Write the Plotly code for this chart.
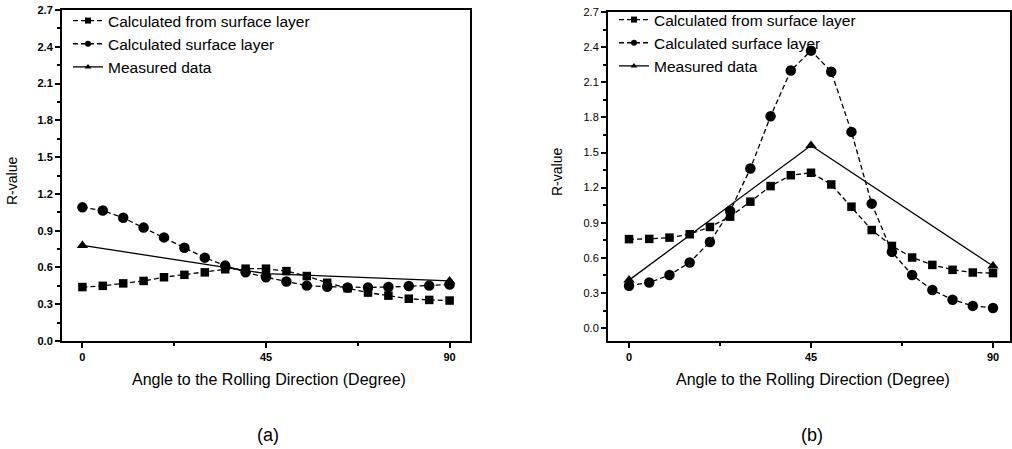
import plotly.graph_objects as go

angles = [0, 5, 10, 15, 20, 25, 30, 35, 40, 45, 50, 55, 60, 65, 70, 75, 80, 85, 90]
measured_angles = [0, 45, 90]

# Panel (a)
a_from_surface = [0.44, 0.45, 0.47, 0.49, 0.52, 0.54, 0.56, 0.585, 0.59, 0.59, 0.57, 0.53,
                  0.475, 0.43, 0.395, 0.37, 0.345, 0.335, 0.33]
a_surface = [1.09, 1.065, 1.005, 0.925, 0.845, 0.76, 0.68, 0.615, 0.56, 0.52, 0.485, 0.452,
             0.443, 0.437, 0.437, 0.44, 0.448, 0.452, 0.46]
a_measured = [0.78, 0.55, 0.49]

# Panel (b)
b_from_surface = [0.76, 0.762, 0.773, 0.802, 0.864, 0.952, 1.08, 1.213, 1.306, 1.327, 1.227,
                  1.037, 0.838, 0.702, 0.603, 0.54, 0.498, 0.475, 0.47]
b_surface = [0.362, 0.39, 0.453, 0.561, 0.736, 1.0, 1.363, 1.809, 2.2, 2.37, 2.19, 1.676,
             1.063, 0.651, 0.453, 0.325, 0.243, 0.19, 0.172]
b_measured = [0.41, 1.56, 0.53]

names = ["Calculated from surface layer", "Calculated surface layer", "Measured data"]
y_ticks = [0.0, 0.3, 0.6, 0.9, 1.2, 1.5, 1.8, 2.1, 2.4, 2.7]
x_ticks = [0, 45, 90]

FONT = "Liberation Sans, Arial, sans-serif"
DASH = "5px,3px"
fig = go.Figure()

styles = [
    dict(symbol="square", size=8.5, dash=DASH),
    dict(symbol="circle", size=10.5, dash=DASH),
    dict(symbol="triangle-up", size=10, dash="solid"),
]

def add_panel(xa, ya, legend, series):
    for (xs, ys), st, nm in zip(series, styles, names):
        fig.add_trace(go.Scatter(x=xs, y=ys, name=nm, mode="lines+markers", showlegend=False,
                                 line=dict(color="black", width=1.3, dash=st["dash"]),
                                 marker=dict(symbol=st["symbol"], size=st["size"], color="black"),
                                 xaxis=xa, yaxis=ya))
    # legend-only entries (smaller symbols, like the original legend)
    for st, nm in zip(styles, names):
        fig.add_trace(go.Scatter(x=[None], y=[None], name=nm, mode="lines+markers",
                                 line=dict(color="black", width=1.3, dash=st["dash"]),
                                 marker=dict(symbol=st["symbol"], size=6, color="black"),
                                 xaxis=xa, yaxis=ya, legend=legend))

add_panel("x", "y", "legend",
          [(angles, a_from_surface), (angles, a_surface), (measured_angles, a_measured)])
add_panel("x2", "y2", "legend2",
          [(angles, b_from_surface), (angles, b_surface), (measured_angles, b_measured)])

axis_common = dict(showgrid=False, zeroline=False, showline=True, linecolor="black",
                   linewidth=2, mirror=True, ticks="outside", tickcolor="black",
                   ticklen=5, tickwidth=1.5, automargin=False)
minor_x = dict(dtick=22.5, tick0=0, ticks="outside", ticklen=3, tickcolor="black")
minor_y = dict(dtick=0.15, tick0=0, ticks="outside", ticklen=3, tickcolor="black")

fig.update_layout(
    width=1012, height=449,
    margin=dict(l=0, r=0, t=0, b=0, autoexpand=False),
    paper_bgcolor="white", plot_bgcolor="white",
    showlegend=True,
    xaxis=dict(domain=[62/1012, 470/1012], range=[-5, 95], anchor="y",
               tickvals=x_ticks, tickfont=dict(family=FONT, size=11, color="black", weight="bold"),
               minor=minor_x, **axis_common),
    yaxis=dict(domain=[1-341/449, 1-10/449], range=[0, 2.7], anchor="x",
               tickvals=y_ticks, ticktext=[f"{v:.1f}" for v in y_ticks],
               tickfont=dict(family=FONT, size=11, color="black", weight="bold"),
               minor=minor_y, **axis_common),
    xaxis2=dict(domain=[608/1012, 1010/1012], range=[-5.2, 94.2], anchor="y2",
                tickvals=x_ticks, tickfont=dict(family=FONT, size=11, color="black", weight="bold"),
                minor=minor_x, **axis_common),
    yaxis2=dict(domain=[1-341/449, 1-12/449], range=[-0.11, 2.7], anchor="x2",
                tickvals=y_ticks, ticktext=[f"{v:.1f}" for v in y_ticks],
                tickfont=dict(family=FONT, size=11, color="black"),
                minor=minor_y, **axis_common),
    legend=dict(x=68/1012, y=1-4/449, xanchor="left", yanchor="top",
                font=dict(family=FONT, size=15.5, color="black"), bgcolor="rgba(0,0,0,0)",
                itemwidth=30, tracegroupgap=0),
    legend2=dict(x=614/1012, y=1-3/449, xanchor="left", yanchor="top",
                 font=dict(family=FONT, size=15.5, color="black"), bgcolor="rgba(0,0,0,0)",
                 itemwidth=30, tracegroupgap=0),
)

ann_font = dict(family=FONT, size=16, color="black")
for xc, yc in [(269, 379), (813, 379)]:
    fig.add_annotation(text="Angle to the Rolling Direction (Degree)", x=xc/1012, y=1-yc/449,
                       xref="paper", yref="paper", xanchor="center", yanchor="middle",
                       showarrow=False, font=ann_font)
for xc, yc in [(12, 181), (557, 172)]:
    fig.add_annotation(text="R-value", x=xc/1012, y=1-yc/449, xref="paper", yref="paper",
                       xanchor="center", yanchor="middle",
                       showarrow=False, textangle=-90, font=dict(family=FONT, size=14, color="black"))
for txt, xc in [("(a)", 268), ("(b)", 812)]:
    fig.add_annotation(text=txt, x=xc/1012, y=1-435/449, xref="paper", yref="paper",
                       xanchor="center", yanchor="middle",
                       showarrow=False, font=dict(family=FONT, size=18, color="black"))

fig.write_html("out.html", config={"displayModeBar": False},
               post_script="document.body.style.margin='0';"
                           "document.body.style.overflow='hidden';"
                           "document.documentElement.style.overflow='hidden';")
